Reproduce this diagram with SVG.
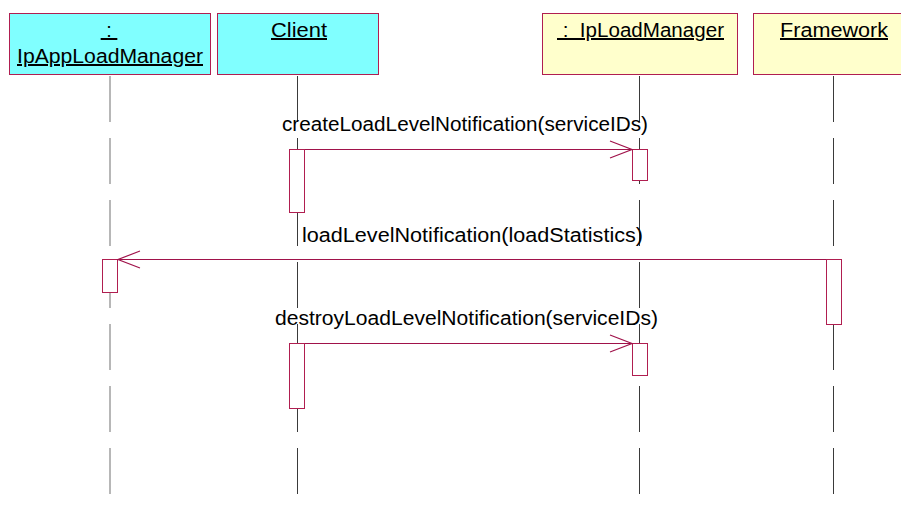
<svg xmlns="http://www.w3.org/2000/svg" width="901" height="508" viewBox="0 0 901 508">
<style>
.obj{stroke:#b01e50;stroke-width:1}
.cy{fill:#80ffff}
.ye{fill:#ffffcc}
.t{font-family:"Liberation Sans",Arial,sans-serif;font-size:20px;fill:#000;white-space:pre}
.u{text-decoration:underline}
.life{stroke:#3a3a3a;stroke-width:1;stroke-dasharray:46 16;fill:none}
.act{fill:#fff;stroke:#b01e50;stroke-width:1}
.msg{stroke:#a0124a;stroke-width:1;fill:none}
</style>
<defs>
<marker id="open" markerUnits="userSpaceOnUse" markerWidth="24" markerHeight="20" refX="22" refY="9" orient="auto" overflow="visible">
<path d="M0,0.5 L22,9 L0,17.5" fill="none" stroke="#a0124a" stroke-width="1.2"/>
</marker>
</defs>
<rect width="901" height="508" fill="#fff"/>
<g id="lifelines">
<line class="life" x1="110" y1="76" x2="110" y2="508" style="stroke:#888;stroke-width:1.2"/>
<line class="life" x1="297.5" y1="76" x2="297.5" y2="508"/>
<line class="life" x1="639.5" y1="76" x2="639.5" y2="508"/>
<line class="life" x1="833.5" y1="76" x2="833.5" y2="508"/>
</g>
<g id="IpAppLoadManager">
<rect class="obj cy" x="9.5" y="13.5" width="201" height="61"/>
<text class="t u" x="109" y="37" text-anchor="middle"> : </text>
<text class="t u" x="17" y="63" textLength="186" lengthAdjust="spacingAndGlyphs">IpAppLoadManager</text>
</g>
<g id="Client">
<rect class="obj cy" x="217.5" y="13.5" width="161" height="61"/>
<text class="t u" x="271" y="37" textLength="56" lengthAdjust="spacingAndGlyphs">Client</text>
</g>
<g id="IpLoadManager">
<rect class="obj ye" x="542.5" y="13.5" width="195" height="61"/>
<text class="t u" x="557" y="37" textLength="167" lengthAdjust="spacingAndGlyphs"> :  IpLoadManager</text>
</g>
<g id="Framework">
<rect class="obj ye" x="753.5" y="13.5" width="162" height="61"/>
<text class="t u" x="780" y="37" textLength="108" lengthAdjust="spacingAndGlyphs">Framework</text>
</g>
<g id="activations">
<rect class="act" x="289.5" y="149.5" width="15" height="63"/>
<rect class="act" x="632.5" y="149.5" width="15" height="31"/>
<rect class="act" x="102.5" y="259.5" width="15" height="33"/>
<rect class="act" x="826.5" y="259.5" width="15" height="65"/>
<rect class="act" x="289.5" y="343.5" width="15" height="65"/>
<rect class="act" x="632.5" y="343.5" width="15" height="32"/>
</g>
<g id="connectors">
<line class="msg" x1="305" y1="149.5" x2="632" y2="149.5" marker-end="url(#open)"/>
<line class="msg" x1="826" y1="259.5" x2="118" y2="259.5" marker-end="url(#open)"/>
<line class="msg" x1="305" y1="343.5" x2="632" y2="343.5" marker-end="url(#open)"/>
<text class="t" x="282" y="131" textLength="366" lengthAdjust="spacingAndGlyphs">createLoadLevelNotification(serviceIDs)</text>
<text class="t" x="302" y="242" textLength="341" lengthAdjust="spacingAndGlyphs">loadLevelNotification(loadStatistics)</text>
<text class="t" x="275" y="325" textLength="383" lengthAdjust="spacingAndGlyphs">destroyLoadLevelNotification(serviceIDs)</text>
</g>
</svg>
